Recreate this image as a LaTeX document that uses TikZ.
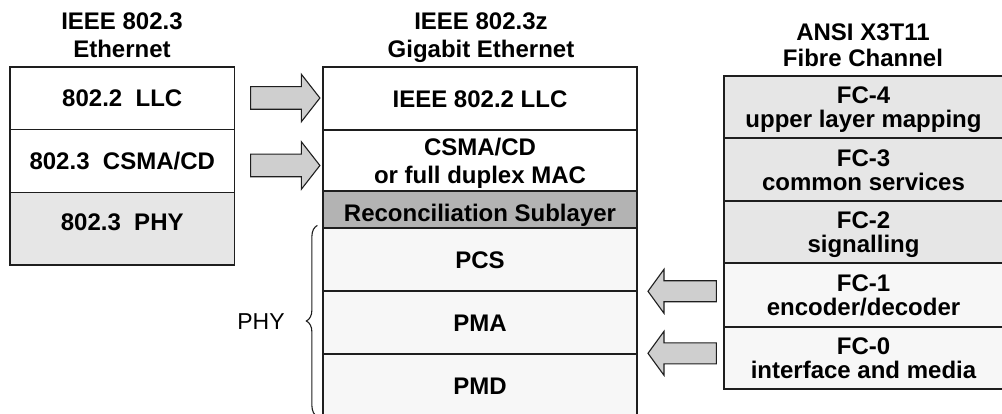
\documentclass[tikz,border=0pt]{standalone}
\usepackage{fontspec}
\setmainfont{Liberation Sans}
\usetikzlibrary{calc,decorations.pathreplacing}

\definecolor{rowwhite}{HTML}{FFFFFF}
\definecolor{rowlight}{HTML}{F7F7F7}
\definecolor{rowgray}{HTML}{E6E6E6}
\definecolor{rowdark}{HTML}{B3B3B3}
\definecolor{arrowfill}{HTML}{CFCFCF}
\definecolor{ink}{HTML}{1E1E1E}

% one text line on a fixed strut, centred on the capital height
\newcommand{\LineA}[1]{\rule[-5.4pt]{0pt}{28pt}\smash{#1}}
\newcommand{\LineB}[1]{\rule[-3.4pt]{0pt}{24pt}\smash{#1}}
\newcommand{\LineC}[1]{\rule[-4.65pt]{0pt}{26.5pt}\smash{#1}}

\begin{document}
\begin{tikzpicture}[x=1pt,y=-1pt,
  layer/.style={draw=ink, line width=1.2pt, inner sep=0pt, align=center,
                font=\fontsize{24}{28}\selectfont\bfseries},
  fclayer/.style={layer, font=\fontsize{24}{24}\selectfont\bfseries},
  heading/.style={inner sep=0pt, align=center, font=\fontsize{24}{28}\selectfont\bfseries},
  blockarrow/.style={draw=ink, line width=1.1pt, fill=arrowfill, line join=miter},
  bracket/.style={draw=ink, line width=1.1pt, decorate,
                  decoration={brace, amplitude=11pt}},
]
\useasboundingbox (0,0) rectangle (1002,414);

% ---- IEEE 802.3 Ethernet ----
\node[heading] (t1) at (122,35) {\LineA{IEEE 802.3}\\\LineA{Ethernet}};
\node[layer, fill=rowwhite, minimum width=224.5pt, minimum height=62.3pt]
  (e1) at (122.25,98.15) {\LineA{802.2\ \ LLC}};
\node[layer, fill=rowwhite, minimum width=224.5pt, minimum height=63.4pt]
  (e2) at (122.25,161) {\LineA{802.3\ \ CSMA/CD}};
\node[layer, fill=rowgray, minimum width=224.5pt, minimum height=72.3pt]
  (e3) at (122.25,228.85) {\LineA{\raisebox{7pt}{802.3\ \ PHY}}};

% ---- IEEE 802.3z Gigabit Ethernet ----
\node[heading] (t2) at (481,35) {\LineA{IEEE 802.3z}\\\LineA{Gigabit Ethernet}};
\node[layer, fill=rowwhite, minimum width=314pt, minimum height=63pt]
  (g1) at (480,98.5) {\LineA{IEEE 802.2 LLC}};
\node[layer, fill=rowwhite, minimum width=314pt, minimum height=61pt]
  (g2) at (480,160.5) {\LineA{CSMA/CD}\\\LineA{or full duplex MAC}};
\node[layer, fill=rowdark, minimum width=314pt, minimum height=37pt]
  (g3) at (480,209.5) {\LineA{\raisebox{-3pt}{Reconciliation Sublayer}}};
\node[layer, fill=rowlight, minimum width=314pt, minimum height=63pt]
  (g4) at (480,259.5) {\LineA{PCS}};
\node[layer, fill=rowlight, minimum width=314pt, minimum height=63pt]
  (g5) at (480,322.5) {\LineA{PMA}};
\node[layer, fill=rowlight, minimum width=314pt, minimum height=63pt]
  (g6) at (480,385.5) {\LineA{PMD}};

% ---- ANSI X3T11 Fibre Channel ----
\node[heading, font=\fontsize{24}{26.5}\selectfont\bfseries] (t3) at (863,44.75)
  {\LineC{ANSI X3T11}\\\LineC{Fibre Channel}};
\node[fclayer, fill=rowgray, minimum width=279pt, minimum height=62pt]
  (f4) at (863.5,107) {\LineB{FC-4}\\\LineB{upper layer mapping}};
\node[fclayer, fill=rowgray, minimum width=279pt, minimum height=63pt]
  (f3) at (863.5,169.5) {\LineB{FC-3}\\\LineB{common services}};
\node[fclayer, fill=rowgray, minimum width=279pt, minimum height=62pt]
  (f2) at (863.5,232) {\LineB{FC-2}\\\LineB{signalling}};
\node[fclayer, fill=rowlight, minimum width=279pt, minimum height=64pt]
  (f1) at (863.5,295) {\LineB{FC-1}\\\LineB{encoder/decoder}};
\node[fclayer, fill=rowlight, minimum width=279pt, minimum height=62pt]
  (f0) at (863.5,358) {\LineB{FC-0}\\\LineB{interface and media}};

% ---- block arrows: Ethernet layers carried over to Gigabit Ethernet ----
\draw[blockarrow] ($(e1.east)+(15.5,-0.15)$) ++(0,-11.3) -- ++(50.7,0) -- ++(0,-12.5)
  -- ++(18.6,23.8) -- ++(-18.6,23.8) -- ++(0,-12.5) -- ++(-50.7,0) -- cycle;
\draw[blockarrow] ($(e2.east)+(15.5,4.5)$) ++(0,-11.3) -- ++(50.7,0) -- ++(0,-12.5)
  -- ++(18.6,23.8) -- ++(-18.6,23.8) -- ++(0,-12.5) -- ++(-50.7,0) -- cycle;

% ---- block arrows: Fibre Channel layers taken into the PHY ----
\draw[blockarrow] ($(f1.west)+(-7,-3.7)$) ++(0,-10.5) -- ++(-52.4,0) -- ++(0,-11.5)
  -- ++(-16,22) -- ++(16,22) -- ++(0,-11.5) -- ++(52.4,0) -- cycle;
\draw[blockarrow] ($(f0.west)+(-7,-4.7)$) ++(0,-10.5) -- ++(-52.4,0) -- ++(0,-11.5)
  -- ++(-16,22) -- ++(16,22) -- ++(0,-11.5) -- ++(52.4,0) -- cycle;

% ---- PHY brace ----
\coordinate (bb) at ($(g6.south west)+(-5,-1)$);
\coordinate (bt) at ($(g4.north west)+(-5,-2)$);
\draw[bracket] (bb) -- (bt);
\node[inner sep=0pt, font=\fontsize{23}{28}\selectfont] (phy) at (261,321) {\LineA{PHY}};
\end{tikzpicture}
\end{document}
